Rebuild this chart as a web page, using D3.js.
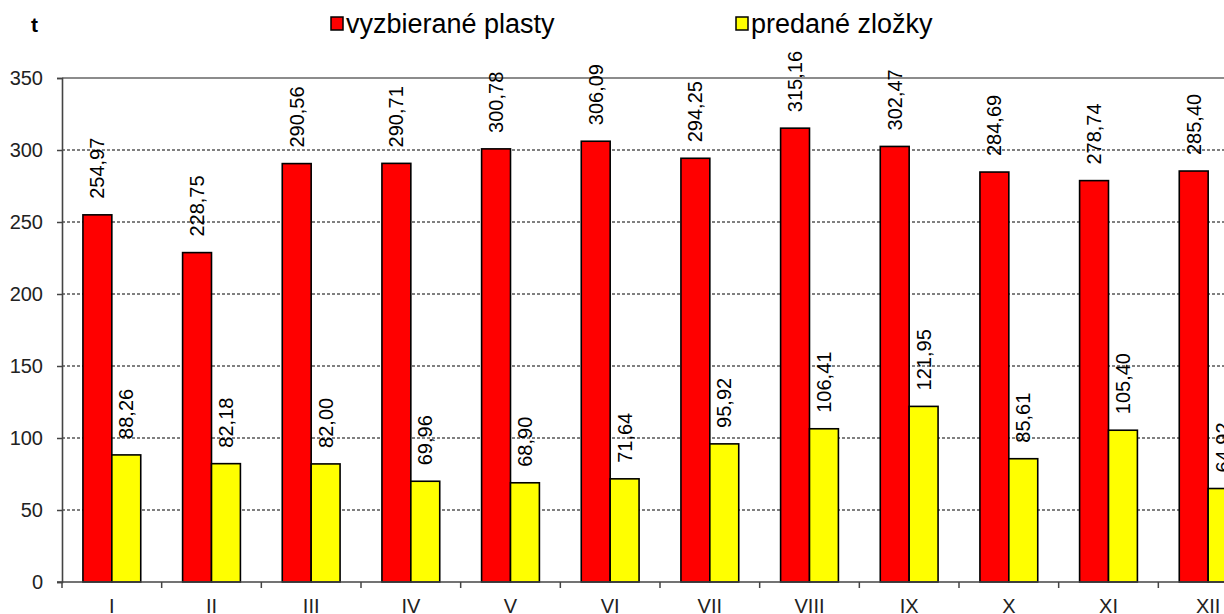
<!DOCTYPE html>
<html>
<head>
<meta charset="utf-8">
<script src="https://cdn.jsdelivr.net/npm/d3@7"></script>
<style>
  html, body { margin: 0; padding: 0; background: #fff; overflow: hidden; }
  svg { display: block; font-family: "Liberation Sans", Arial, sans-serif; }
</style>
</head>
<body>
<svg id="chart" width="1224" height="614"></svg>
<script>
// data (tons per month)
const months = ["I", "II", "III", "IV", "V", "VI", "VII", "VIII", "IX", "X", "XI", "XII"];
const plasty = [254.97, 228.75, 290.56, 290.71, 300.78, 306.09, 294.25, 315.16, 302.47, 284.69, 278.74, 285.40];
const zlozky = [88.26, 82.18, 82.00, 69.96, 68.90, 71.64, 95.92, 106.41, 121.95, 85.61, 105.40, 64.92];
const seriesNames = ["vyzbierané plasty", "predané zložky"];
const seriesColors = ["#ff0000", "#ffff00"];
const yTicks = [0, 50, 100, 150, 200, 250, 300, 350];

const svg = d3.select("#chart");

// plot area (right part runs past the window edge, as in the original)
const plotL = 62, plotR = 1258, plotT = 78, plotB = 582;

const x = d3.scaleBand().domain(months).range([plotL, plotR]).paddingInner(0.42).paddingOuter(0.21);
const xs = d3.scaleBand().domain([0, 1]).range([0, x.bandwidth()]);
const y = d3.scaleLinear().domain([0, 350]).range([plotB, plotT]);

const fmt = v => d3.format(".2f")(v).replace(".", ",");

// dashed gridlines
svg.append("g")
  .selectAll("line")
  .data(yTicks.filter(t => t > 0 && t < 350))
  .enter().append("line")
  .attr("x1", plotL).attr("x2", plotR)
  .attr("y1", d => y(d)).attr("y2", d => y(d))
  .attr("stroke", "#000").attr("stroke-width", 1)
  .attr("stroke-dasharray", "3,2");

// top border line at 350
svg.append("line")
  .attr("x1", plotL).attr("x2", plotR)
  .attr("y1", y(350)).attr("y2", y(350))
  .attr("stroke", "#8c8c8c").attr("stroke-width", 2);

// bars
const data = months.map((m, i) => ({ m, vals: [plasty[i], zlozky[i]] }));
const groups = svg.append("g").selectAll("g")
  .data(data)
  .enter().append("g")
  .attr("transform", d => `translate(${x(d.m)},0)`);

groups.selectAll("rect")
  .data(d => d.vals)
  .enter().append("rect")
  .attr("x", (v, j) => xs(j))
  .attr("width", xs.bandwidth())
  .attr("y", v => y(v))
  .attr("height", v => plotB - y(v))
  .attr("fill", (v, j) => seriesColors[j])
  .attr("stroke", "#000").attr("stroke-width", 1.6);

// value labels, rotated
groups.selectAll("text")
  .data(d => d.vals)
  .enter().append("text")
  .attr("transform", (v, j) => `translate(${xs(j) + xs.bandwidth() / 2 + 7},${y(v) - 16}) rotate(-90)`)
  .attr("font-size", 20)
  .attr("fill", "#000")
  .text(v => fmt(v));

// y axis
const yAxis = svg.append("g")
  .attr("transform", `translate(${plotL},0)`)
  .call(d3.axisLeft(y).tickValues(yTicks).tickSize(5).tickPadding(14).tickFormat(d3.format("d")));
yAxis.select(".domain").attr("stroke", "#444").attr("stroke-width", 1.6);
yAxis.selectAll(".tick line").attr("stroke", "#444").attr("stroke-width", 1.5);
yAxis.selectAll("text").attr("font-size", 20).attr("fill", "#222")
  .attr("font-family", "'Liberation Sans', Arial, sans-serif");

// x axis: boundary ticks between groups
const step = x.step();
svg.append("line")
  .attr("x1", plotL - 5).attr("x2", plotR)
  .attr("y1", plotB).attr("y2", plotB)
  .attr("stroke", "#444").attr("stroke-width", 1.6);
svg.append("g").selectAll("line")
  .data(d3.range(months.length + 1))
  .enter().append("line")
  .attr("x1", i => plotL + i * step).attr("x2", i => plotL + i * step)
  .attr("y1", plotB).attr("y2", plotB + 6)
  .attr("stroke", "#444").attr("stroke-width", 1.5);
svg.append("g").selectAll("text")
  .data(months)
  .enter().append("text")
  .attr("x", m => x(m) + x.bandwidth() / 2)
  .attr("y", 613)
  .attr("text-anchor", "middle")
  .attr("font-size", 20).attr("fill", "#222")
  .text(m => m);

// unit label
svg.append("text")
  .attr("x", 31).attr("y", 32)
  .attr("font-size", 21).attr("font-weight", "bold")
  .text("t");

// legend
const legendX = [331, 736];
const legend = svg.append("g").selectAll("g")
  .data(seriesNames)
  .enter().append("g")
  .attr("transform", (d, i) => `translate(${legendX[i]},17)`);
legend.append("rect")
  .attr("width", 12).attr("height", 13)
  .attr("fill", (d, i) => seriesColors[i])
  .attr("stroke", "#000").attr("stroke-width", 1.5);
legend.append("text")
  .attr("x", 15).attr("y", 16)
  .attr("font-size", 27)
  .text(d => d);
</script>
</body>
</html>
